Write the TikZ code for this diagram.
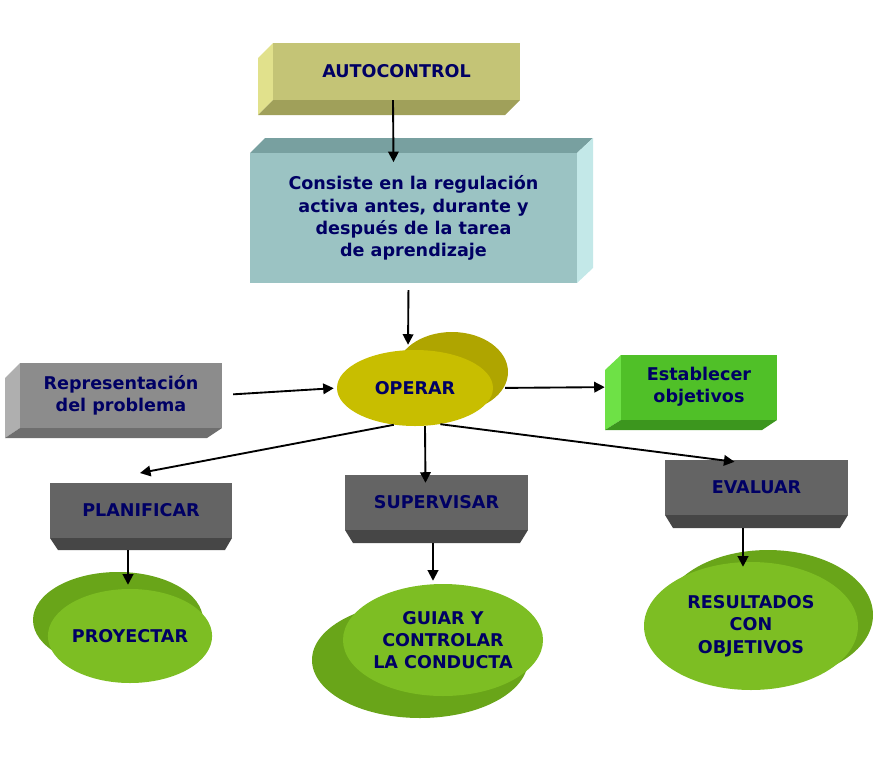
\documentclass[tikz,border=0pt]{standalone}
\usepackage{fontspec}
\setmainfont{DejaVu Sans}
\usetikzlibrary{shapes,shapes.geometric,calc,arrows.meta}
\definecolor{navy}{RGB}{0,0,100}
\definecolor{khaki}{RGB}{196,196,118}
\definecolor{khakiL}{RGB}{225,225,140}
\definecolor{khakiD}{RGB}{160,160,90}
\definecolor{teal1}{RGB}{155,195,195}
\definecolor{tealT}{RGB}{120,160,160}
\definecolor{tealS}{RGB}{195,232,232}
\definecolor{greyA}{RGB}{140,140,140}
\definecolor{greyL}{RGB}{175,175,175}
\definecolor{greyD}{RGB}{110,110,110}
\definecolor{darkA}{RGB}{100,100,100}
\definecolor{darkD}{RGB}{70,70,70}
\definecolor{grn}{RGB}{80,192,40}
\definecolor{grnL}{RGB}{110,225,70}
\definecolor{grnD}{RGB}{60,150,30}
\definecolor{lime}{RGB}{125,190,35}
\definecolor{limeB}{RGB}{105,165,25}
\definecolor{ylw}{RGB}{200,190,0}
\definecolor{ylwB}{RGB}{175,165,0}
\tikzset{
  txt/.style={font=\bfseries\fontsize{15}{19}\selectfont, text=navy, align=center},
  front/.style={txt, rectangle, inner sep=0pt},
  oval/.style={txt, ellipse, inner sep=0pt},
  arr/.style={-{Triangle[length=9pt,width=9pt]}, line width=1.6pt, black}
}
\begin{document}
\begin{tikzpicture}[x=0.03cm,y=-0.03cm]
\useasboundingbox (0,0) rectangle (882,770);
% autocontrol
\fill[khakiL] (273,43) -- (258,58) -- (258,115) -- (273,100) -- cycle;
\fill[khakiD] (273,100) -- (258,115) -- (505,115) -- (520,100) -- cycle;
\node[front, fill=khaki, minimum width=247*0.03cm, minimum height=57*0.03cm]
  (auto) at (396.5,71.5) {AUTOCONTROL};
% consiste
\fill[tealT] (250,153) -- (265,138) -- (593,138) -- (577,153) -- cycle;
\fill[tealS] (577,153) -- (593,138) -- (593,268) -- (577,283) -- cycle;
\node[front, fill=teal1, minimum width=327*0.03cm, minimum height=130*0.03cm]
  (regul) at (413.5,218) {Consiste en la regulación\\ activa antes, durante y\\ después de la tarea\\ de aprendizaje};
% operar
\fill[ylwB] (452,372) ellipse (56 and 40);
\node[oval, fill=ylw, minimum width=156*0.03cm, minimum height=76*0.03cm]
  (operar) at (415,388) {OPERAR};
% representacion
\fill[greyL] (20,363) -- (5,378) -- (5,438) -- (20,428) -- cycle;
\fill[greyD] (20,428) -- (5,438) -- (207,438) -- (222,428) -- cycle;
\node[front, fill=greyA, minimum width=202*0.03cm, minimum height=65*0.03cm]
  (repr) at (121,395) {Representación\\ del problema};
% establecer
\fill[grnL] (621,355) -- (605,370) -- (605,430) -- (621,420) -- cycle;
\fill[grnD] (621,420) -- (605,430) -- (762,430) -- (777,420) -- cycle;
\node[front, fill=grn, minimum width=156*0.03cm, minimum height=65*0.03cm]
  (objet) at (699,387) {Establecer\\ objetivos};
% planificar, supervisar, evaluar
\fill[darkD] (50,538) -- (58,550) -- (225,550) -- (232,538) -- cycle;
\node[front, fill=darkA, minimum width=182*0.03cm, minimum height=55*0.03cm]
  (plan) at (141,510.5) {PLANIFICAR};
\fill[darkD] (345,530) -- (353,543) -- (520,543) -- (528,530) -- cycle;
\node[front, fill=darkA, minimum width=183*0.03cm, minimum height=55*0.03cm]
  (superv) at (436.5,502.5) {SUPERVISAR};
\fill[darkD] (665,515) -- (673,528) -- (840,528) -- (848,515) -- cycle;
\node[front, fill=darkA, minimum width=183*0.03cm, minimum height=55*0.03cm]
  (eval) at (756.5,487.5) {EVALUAR};
% ovals
\fill[limeB] (118,620) ellipse (85 and 48);
\node[oval, fill=lime, minimum width=160*0.03cm, minimum height=94*0.03cm]
  (proy) at (130,636) {PROYECTAR};
\fill[limeB] (420,660) ellipse (108 and 58);
\node[oval, fill=lime, minimum width=200*0.03cm, minimum height=112*0.03cm]
  (guiar) at (443,640) {GUIAR Y\\ CONTROLAR\\ LA CONDUCTA};
\fill[limeB] (768,615) ellipse (105 and 65);
\node[oval, fill=lime, minimum width=214*0.03cm, minimum height=128*0.03cm]
  (result) at (751,626) {RESULTADOS\\ CON\\ OBJETIVOS};
% arrows
\draw[arr, shorten >=-2pt] ([xshift=-3.5*0.03cm]auto.south) -- ([xshift=-20*0.03cm,yshift=-7*0.03cm]regul.north);
\draw[arr, shorten <=7*0.03cm, shorten >=5*0.03cm] ([xshift=-5*0.03cm]regul.south) -- ([xshift=-7*0.03cm]operar.north);
\draw[arr, shorten <=11*0.03cm, shorten >=3*0.03cm] (repr.east) -- (operar.west);
\draw[arr, shorten <=12*0.03cm, shorten >=16*0.03cm] (operar.east) -- (objet.west);
\draw[arr] (operar.240) -- (140,473);
\draw[arr] ([xshift=10*0.03cm]operar.south) -- ([xshift=-11*0.03cm,yshift=-8*0.03cm]superv.north);
\draw[arr] (operar.305) -- ([xshift=-22*0.03cm,yshift=-2*0.03cm]eval.north);
\draw[arr, shorten >=4*0.03cm] ([xshift=-13*0.03cm,yshift=-12*0.03cm]plan.south) -- ([xshift=-2*0.03cm]proy.north);
\draw[arr, shorten >=3*0.03cm] ([xshift=-3.5*0.03cm,yshift=-13*0.03cm]superv.south) -- ([xshift=-10*0.03cm]guiar.north);
\draw[arr, shorten >=-5*0.03cm] ([xshift=-13.5*0.03cm,yshift=-13*0.03cm]eval.south) -- ([xshift=-8*0.03cm]result.north);
\end{tikzpicture}
\end{document}
